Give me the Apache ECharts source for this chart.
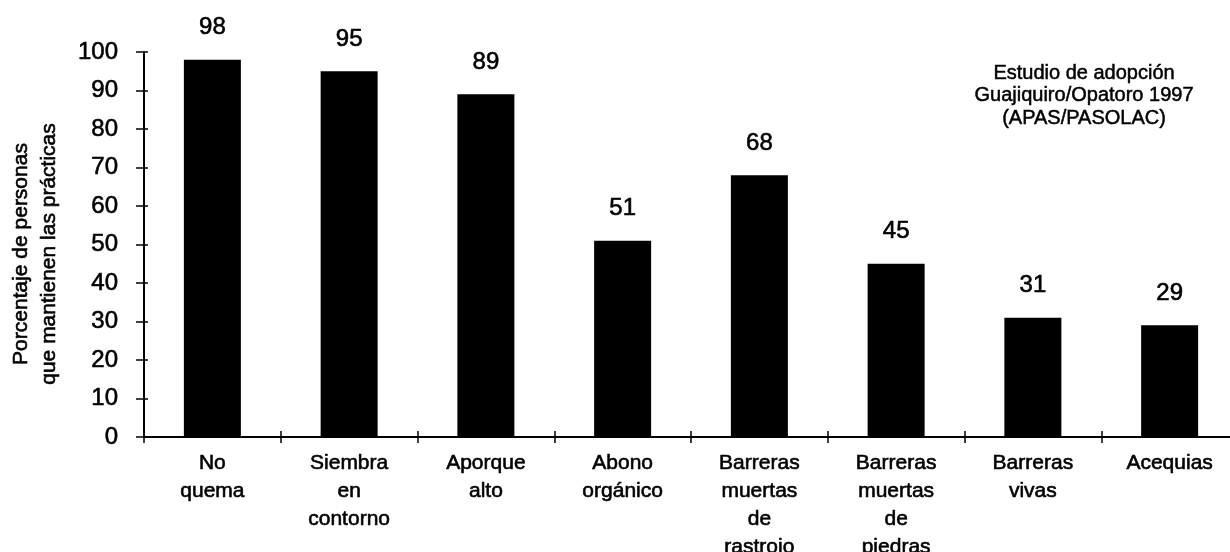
<!DOCTYPE html>
<html>
<head>
<meta charset="utf-8">
<script src="https://cdn.jsdelivr.net/npm/echarts@6/dist/echarts.min.js"></script>
<style>
  html, body { margin: 0; padding: 0; background: #fff; }
  #chart { width: 1230px; height: 552px; }
</style>
</head>
<body>
<div id="chart"></div>
<script>
// Adoption of soil-conservation practices (percent of people who keep them)
const categories = [
  'No\nquema',
  'Siembra\nen\ncontorno',
  'Aporque\nalto',
  'Abono\norgánico',
  'Barreras\nmuertas\nde\nrastrojo',
  'Barreras\nmuertas\nde\npiedras',
  'Barreras\nvivas',
  'Acequias'
];
const adoption = [98, 95, 89, 51, 68, 45, 31, 29];
const yMin = 0;
const yMax = 100;
const yStep = 10;
const yTitle = 'Porcentaje de personas\nque mantienen las prácticas';
const noteLines = ['Estudio de adopción', 'Guajiquiro/Opatoro 1997', '(APAS/PASOLAC)'];

const FONT = "'Liberation Sans', Arial, Helvetica, sans-serif";
const INK = '#000';
// a hairline outline gives the lettering a slightly heavier print weight
const heavy = { textBorderColor: INK, textBorderWidth: 0.6 };

const chart = echarts.init(document.getElementById('chart'), null, { renderer: 'canvas' });

chart.setOption({
  backgroundColor: '#fff',
  animation: false,
  textStyle: { fontFamily: FONT, color: INK },
  grid: {
    left: 144,
    right: -8,
    top: 52,
    bottom: 115,
    containLabel: false,
    outerBoundsMode: 'none'
  },
  xAxis: [
    {
      type: 'category',
      data: categories,
      position: 'bottom',
      boundaryGap: true,
      axisLine: { show: true, lineStyle: { color: INK, width: 2 } },
      axisTick: { show: true, inside: false, length: 6, lineStyle: { color: INK, width: 1.5 } },
      axisLabel: Object.assign({
        interval: 0,
        margin: 12,
        color: INK,
        fontFamily: FONT,
        fontSize: 21,
        lineHeight: 28,
        align: 'center'
      }, heavy),
      splitLine: { show: false }
    },
    {
      // second copy of the category axis: tick marks on the inner side
      type: 'category',
      data: categories,
      position: 'bottom',
      boundaryGap: true,
      axisLine: { show: false },
      axisTick: { show: true, inside: true, length: 6, lineStyle: { color: INK, width: 1.5 } },
      axisLabel: { show: false },
      splitLine: { show: false }
    }
  ],
  yAxis: [
    {
      type: 'value',
      min: yMin,
      max: yMax,
      interval: yStep,
      position: 'left',
      axisLine: { show: true, lineStyle: { color: INK, width: 2 } },
      axisTick: { show: true, inside: false, length: 8, lineStyle: { color: INK, width: 1.5 } },
      axisLabel: Object.assign({ margin: 26, color: INK, fontFamily: FONT, fontSize: 24 }, heavy),
      splitLine: { show: false }
    },
    {
      // second copy of the value axis: tick marks crossing to the inside
      type: 'value',
      min: yMin,
      max: yMax,
      interval: yStep,
      position: 'left',
      axisLine: { show: false },
      axisTick: { show: true, inside: true, length: 4, lineStyle: { color: INK, width: 1.5 } },
      axisLabel: { show: false },
      splitLine: { show: false }
    }
  ],
  series: [
    {
      type: 'bar',
      xAxisIndex: 0,
      yAxisIndex: 0,
      data: adoption,
      barWidth: 57,
      itemStyle: { color: INK },
      label: Object.assign({
        show: true,
        position: 'top',
        distance: 20,
        color: INK,
        fontFamily: FONT,
        fontSize: 24
      }, heavy)
    }
  ],
  graphic: [
    {
      // value-axis title, reading bottom to top
      type: 'text',
      x: 35,
      y: 254,
      rotation: Math.PI / 2,
      style: Object.assign({
        text: yTitle,
        align: 'center',
        verticalAlign: 'middle',
        fill: INK,
        fontFamily: FONT,
        fontSize: 21,
        lineHeight: 28
      }, { stroke: INK, lineWidth: 0.6 })
    },
    {
      type: 'text',
      x: 1084,
      y: 62,
      style: {
        text: noteLines.join('\n'),
        align: 'center',
        verticalAlign: 'top',
        fill: INK,
        stroke: INK,
        lineWidth: 0.5,
        fontFamily: FONT,
        fontSize: 20,
        lineHeight: 22.5
      }
    }
  ]
});
</script>
</body>
</html>
